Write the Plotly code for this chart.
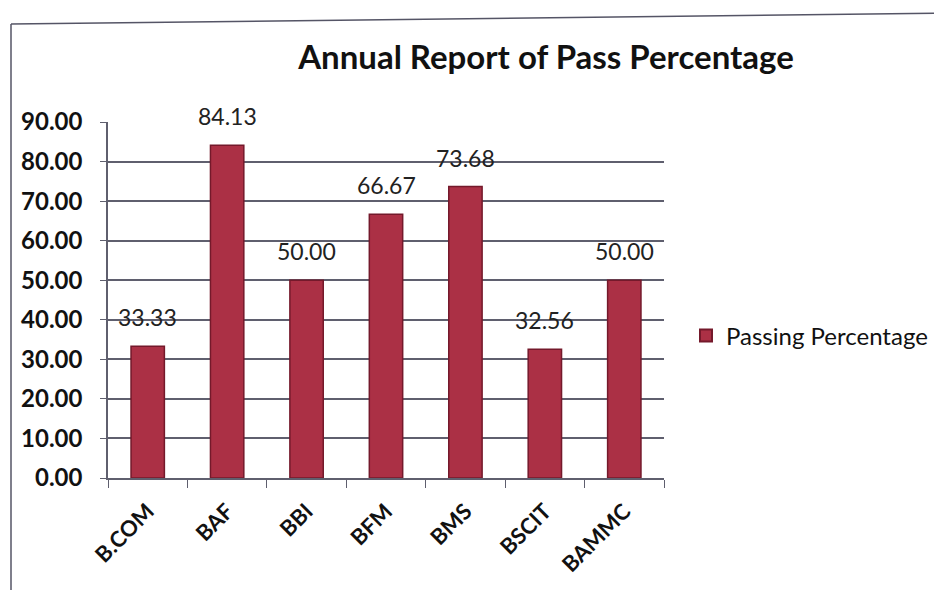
import plotly.graph_objects as go

categories = ["B.COM", "BAF", "BBI", "BFM", "BMS", "BSCIT", "BAMMC"]
pass_pct = [33.33, 84.13, 50.00, 66.67, 73.68, 32.56, 50.00]
y_ticks = [0, 10, 20, 30, 40, 50, 60, 70, 80, 90]
series_name = "Passing Percentage"
title_text = "Annual Report of Pass Percentage"

W, H = 942, 590
OFF = 8  # page body offset
L, R, T, B = 108 - OFF, 664 - OFF, 122 - OFF, 478 - OFF  # plot area in figure pixels
pw, ph = R - L, B - T

def px_x(p):
    return (p - OFF - L) / pw

def px_y(p):
    return (B - (p - OFF)) / ph

FONT = "Lato, Carlito, Calibri, sans-serif"

fig = go.Figure()
fig.add_trace(go.Bar(
    x=categories,
    y=pass_pct,
    name=series_name,
    marker=dict(color="#ab3045", line=dict(color="#74192b", width=1.5)),
    showlegend=True,
))

annotations = []
for c, v in zip(categories, pass_pct):
    annotations.append(dict(
        x=c, y=v, xref="x", yref="y", text=f"{v:.2f}", showarrow=False,
        yshift=29, yanchor="middle",
        font=dict(family=FONT, size=23, color="#222222"),
    ))

fig.update_layout(
    width=W, height=H,
    margin=dict(l=L, r=W - R, t=T, b=H - B, pad=0),
    paper_bgcolor="white", plot_bgcolor="white",
    bargap=0.58,
    title=dict(
        text=title_text, x=px_x(546), xref="paper", xanchor="center",
        y=1 - (57 - OFF) / H, yref="container", yanchor="middle",
        font=dict(family=FONT, size=33, color="#111111", weight="bold"),
    ),
    legend=dict(
        x=px_x(686), y=px_y(336), xanchor="left", yanchor="middle",
        font=dict(family=FONT, size=24, color="#111111"),
        bgcolor="rgba(0,0,0,0)", itemsizing="constant",
    ),
    annotations=annotations,
    shapes=[
        dict(type="line", xref="paper", yref="paper",
             x0=px_x(11), y0=px_y(24), x1=px_x(11), y1=px_y(600),
             line=dict(color="#555566", width=1.5)),
        dict(type="line", xref="paper", yref="paper",
             x0=px_x(11), y0=px_y(24), x1=px_x(950), y1=px_y(13),
             line=dict(color="#555566", width=1.5)),
    ],
)

fig.update_yaxes(
    range=[0, 90], tickvals=y_ticks, tickformat=".2f",
    showgrid=True, gridcolor="#5f5f6e", gridwidth=1.5,
    showline=True, linecolor="#5f5f6e", linewidth=1.5,
    ticks="outside", ticklen=6, tickcolor="#5f5f6e",
    ticklabelstandoff=13,
    tickfont=dict(family=FONT, size=24, color="#111111", weight="bold"),
    zeroline=False,
)
fig.update_xaxes(
    showline=True, linecolor="#5f5f6e", linewidth=1.5,
    ticks="outside", ticklen=8, tickcolor="#5f5f6e", tickson="boundaries",
    tickangle=-45, ticklabelstandoff=10,
    tickfont=dict(family=FONT, size=22, color="#111111", weight="bold"),
)

fig.write_html("out.html")
